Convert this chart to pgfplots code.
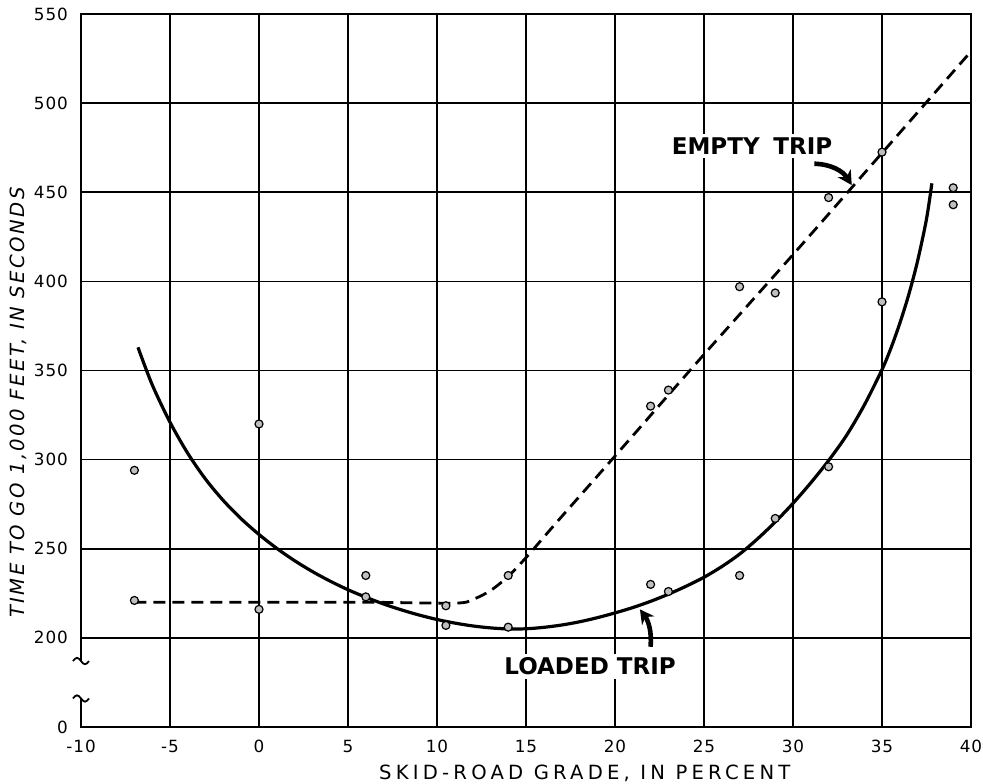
\documentclass[border=0pt]{standalone}
\usepackage{fontspec}
\setmainfont{DejaVu Sans}
\usepackage{pgfplots}
\pgfplotsset{compat=1.18}
\usetikzlibrary{arrows.meta}

% observed times (seconds) against skid-road grade (percent)
\pgfplotstableread{
x     y
-7    294
-7    221
0     320
0     216
6     235
6     223
10.5  218
10.5  207
14    235
14    206
22    330
23    339
22    230
23    226
27    397
27    235
29    393.5
29    267
32    447
32    296
35    472.5
35    388.5
39    452.5
39    443
}\obs

\begin{document}
\begin{tikzpicture}
\begin{axis}[
  scale only axis,
  width=445pt, height=356.5pt,
  xmin=-10, xmax=40, ymin=150, ymax=550,
  xtick={-10,-5,...,40},
  xticklabels={-10,-5,0,5,10,15,20,25,30,35,40},
  ytick={150,200,250,300,350,400,450,500,550},
  yticklabels={0,200,250,300,350,400,450,500,550},
  major tick length=0pt,
  grid=major,
  major grid style={black, line width=0.8pt},
  axis line style={line width=1pt},
  tick label style={font=\fontsize{8.4}{9}\selectfont\addfontfeatures{LetterSpace=6}},
  xticklabel style={yshift=-3pt},
  yticklabel style={xshift=-3pt},
  clip=false,
]
% loaded trip (solid curve)
\addplot[black, line width=1.6pt, smooth, tension=0.5] coordinates {
(-6.8,363) (-6,342) (-5,321) (-4,303.5) (-3,289) (-2,277) (-1,266.8) (0,258)
(1,250.2) (2,243.3) (3,237.2) (4,231.8) (5,227) (6,222.8) (7,219) (8,215.7)
(9,212.8) (10,210.3) (11,208.3) (12,206.7) (13,205.6) (14,205) (15,205.1)
(16,205.9) (17,207.2) (18,209) (19,211.3) (20,214) (21,217) (22,220.5)
(23,224.5) (24,229) (25,234) (26,240) (27,247) (28,255.5) (29,265) (30,275.5)
(31,287) (32,299.5) (33,313.5) (34,330.5) (35,350.5) (35.5,362.5) (36,376.5)
(36.5,392.5) (37,411.5) (37.5,435) (37.8,455)
};
% empty trip (dashed)
\addplot[black, line width=1.4pt, dash pattern=on 6pt off 3.5pt, smooth, tension=0.5] coordinates {
(-7,220) (0,220) (6,220) (11,219.5) (12,221.5) (13,226.5) (14,234.5)
(15,245) (16,256.5) (17,268) (20,302) (25,359) (30,415) (35,472) (40,529)
};
% observations
\addplot[only marks, mark=*, mark size=2pt,
  mark options={draw=black, fill=gray!50, line width=0.6pt}]
  table[x=x, y=y] {\obs};

\node[fill=white, inner sep=2pt, font=\fontsize{11.5}{12}\selectfont\bfseries]
  at (axis cs:27.7,476) {EMPTY\hspace{0.6em}TRIP};
\node[fill=white, inner sep=2pt, font=\fontsize{11.5}{12}\selectfont\bfseries]
  at (axis cs:18.6,184) {LOADED\hspace{0.35em}TRIP};
\draw[line width=2.3pt, -{Stealth[length=7pt,width=7.5pt]}]
  (axis cs:31.2,466) to[bend left=28] (axis cs:33.3,454);
\draw[line width=2.3pt, -{Stealth[length=7pt,width=7.5pt]}]
  (axis cs:22.0,195) to[bend right=20] (axis cs:21.4,216);

\node[font=\fontsize{9.8}{11}\selectfont\addfontfeatures{LetterSpace=21.5}]
  at ([yshift=-23pt]axis cs:18.3,150) {SKID-ROAD GRADE, IN PERCENT};
\node[font=\fontsize{9.8}{11}\selectfont\itshape\addfontfeatures{LetterSpace=12.5}, rotate=90]
  at ([xshift=-31.5pt]axis cs:-10,332) {TIME TO GO 1,000 FEET, IN SECONDS};

\coordinate (b1) at (axis cs:-10,187);
\coordinate (b2) at (axis cs:-10,166);
\coordinate (sw) at (rel axis cs:0,0);
\coordinate (ne) at (rel axis cs:1,1);
\end{axis}
% axis break on the y axis
\fill[white] ([xshift=-2pt]b1) rectangle ([xshift=2pt]b2);
\draw[line width=0.9pt] ([xshift=-4pt]b1) sin ++(2pt,1.6pt) cos ++(2pt,-1.6pt) sin ++(2pt,-1.6pt) cos ++(2pt,1.6pt);
\draw[line width=0.9pt] ([xshift=-4pt]b2) sin ++(2pt,1.6pt) cos ++(2pt,-1.6pt) sin ++(2pt,-1.6pt) cos ++(2pt,1.6pt);
\pgfresetboundingbox
\useasboundingbox ([shift={(-40.5pt,-28.5pt)}]sw) rectangle ([shift={(6pt,7pt)}]ne);
\end{tikzpicture}
\end{document}
